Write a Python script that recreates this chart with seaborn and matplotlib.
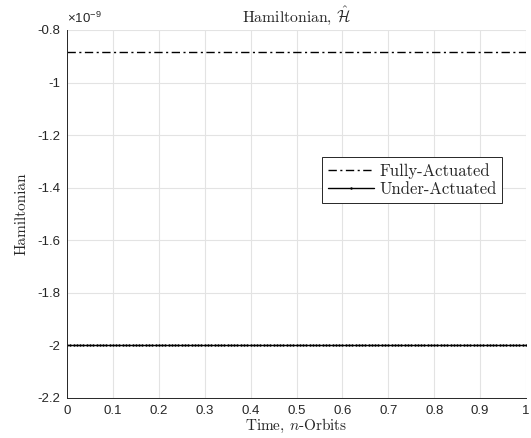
import matplotlib

matplotlib.use('Agg')
import matplotlib.pyplot as plt
from matplotlib.ticker import FuncFormatter
import numpy as np
import pandas as pd
import seaborn as sns

# Sample grid (one orbit) and the two constant Hamiltonian levels
time = np.linspace(0, 1, 141)
H_FULLY = -0.884e-9
H_UNDER = -2.0e-9
X_TICKS = [0, 0.1, 0.2, 0.3, 0.4, 0.5, 0.6, 0.7, 0.8, 0.9, 1]
Y_TICKS = [-2.2e-9, -2.0e-9, -1.8e-9, -1.6e-9, -1.4e-9, -1.2e-9, -1.0e-9, -0.8e-9]

df = pd.DataFrame({
    'time': np.concatenate([time, time]),
    'H': [H_FULLY] * len(time) + [H_UNDER] * len(time),
    'case': ['Fully-Actuated'] * len(time) + ['Under-Actuated'] * len(time),
})

sns.set_theme(style='whitegrid')
plt.rcParams['font.family'] = ['Liberation Sans', 'DejaVu Sans']
plt.rcParams['mathtext.fontset'] = 'cm'
plt.rcParams['axes.unicode_minus'] = False

fig = plt.figure(figsize=(5.31, 4.38), dpi=100)
ax = fig.add_axes([67 / 531, 40 / 438, 459 / 531, 368 / 438])

sns.lineplot(data=df[df['case'] == 'Fully-Actuated'], x='time', y='H',
             ax=ax, color='black', linewidth=1.0, label='Fully-Actuated')
ax.lines[-1].set_linestyle((0, (6, 2.5, 1.5, 2.5)))
sns.lineplot(data=df[df['case'] == 'Under-Actuated'], x='time', y='H',
             ax=ax, color='black', linewidth=1.0, marker='.',
             markersize=3.5, markeredgewidth=0, label='Under-Actuated')

ax.set_xlim(0, 1)
ax.set_ylim(-2.2e-9, -0.8e-9)
ax.set_xticks(X_TICKS)
ax.set_yticks(Y_TICKS)
ax.xaxis.set_major_formatter(FuncFormatter(lambda v, p: '%g' % round(v, 2)))
ax.yaxis.set_major_formatter(FuncFormatter(lambda v, p: '%g' % round(v * 1e9, 2)))

ax.grid(True, color='#e3e3e3', linewidth=0.8)
for side in ['top', 'right']:
    ax.spines[side].set_visible(False)
for side in ['left', 'bottom']:
    ax.spines[side].set_color('#262626')
    ax.spines[side].set_linewidth(0.7)
ax.tick_params(direction='in', length=3.5, width=0.6, color='#262626',
               labelsize=9.5, labelcolor='#262626', pad=5)

ax.text(0.0, 1.012, r'$\mathregular{\times 10^{-9}}$', transform=ax.transAxes,
        fontsize=9.5, color='#262626', ha='left', va='bottom')

serif = 'cmr10'
ax.set_title(r'Hamiltonian, $\hat{\mathcal{H}}$', fontsize=11.3,
             family=serif, pad=6)
ax.set_xlabel(r'Time, $n$-Orbits', fontsize=11, family=serif, labelpad=0)
ax.set_ylabel('Hamiltonian', fontsize=11, family=serif, labelpad=6)

leg = ax.legend(loc='upper left', bbox_to_anchor=(0.555, 0.655),
                prop={'family': serif, 'size': 12}, frameon=True,
                fancybox=False, handlelength=2.8, handletextpad=0.3,
                borderpad=0.35, labelspacing=0.2, borderaxespad=0)
leg.get_frame().set_edgecolor('#262626')
leg.get_frame().set_linewidth(0.7)
leg.get_frame().set_alpha(1)

fig.savefig('out.png', dpi=100)
